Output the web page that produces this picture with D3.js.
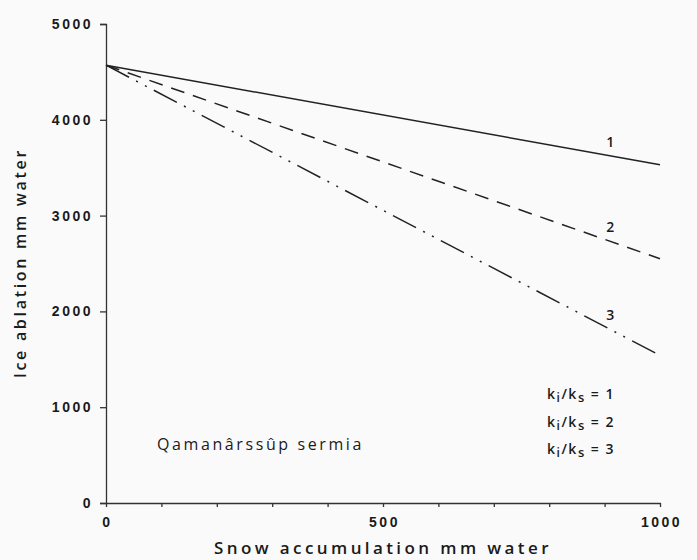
<!DOCTYPE html>
<html>
<head>
<meta charset="utf-8">
<script src="https://cdn.jsdelivr.net/npm/d3@7"></script>
<style>
  body { margin: 0; background: #fafafa; }
  svg { font-family: "Open Sans", "Liberation Sans", Arial, sans-serif; }
  .axis path, .axis line { stroke: #333; stroke-width: 1.3; }
  .axis text { fill: #1a1a1a; font-size: 14px; font-weight: 600; letter-spacing: 2.5px; }
</style>
</head>
<body>
<svg width="697" height="560"></svg>
<script>
// accumulation (mm water) and ablation for each ki/ks ratio
var accum = [0, 1000];
var ratios = [1, 2, 3];
var ablation1 = [4570, 3530];
var ablation2 = [4570, 2550];
var ablation3 = [4570, 1540];
var yTicks = [0, 1000, 2000, 3000, 4000, 5000];
var xLabels = [0, 500, 1000];

var svg = d3.select("svg"),
    margin = {top: 24, right: 37, bottom: 57, left: 106},
    width = +svg.attr("width"),
    height = +svg.attr("height");

var x = d3.scaleLinear()
    .domain([0, 1000])
    .range([margin.left, width - margin.right]);

var y = d3.scaleLinear()
    .domain([0, 5000])
    .range([height - margin.bottom, margin.top]);

// x axis, small ticks every 100, labels at 0/500/1000
var xa = svg.append("g")
    .attr("class", "axis")
    .attr("transform", "translate(0," + y(0) + ")")
    .call(d3.axisBottom(x)
        .tickValues(d3.range(0, 1001, 100))
        .tickSize(4)
        .tickSizeOuter(0)
        .tickFormat(function(d) { return xLabels.indexOf(d) >= 0 ? d : ""; }));
xa.selectAll("text").attr("dy", "1.2em").attr("dx", "1px");

svg.append("g")
    .attr("class", "axis")
    .attr("transform", "translate(" + x(0) + ",0)")
    .call(d3.axisLeft(y)
        .tickValues(yTicks)
        .tickFormat(d3.format("d"))
        .tickSize(6)
        .tickPadding(7));

var series = [ablation1, ablation2, ablation3];
var dashes = [null, "14,9", "26,8,2,8,2,8"];

var line = d3.line()
    .x(function(d, i) { return x(accum[i]); })
    .y(function(d) { return y(d); });

svg.selectAll(".series")
    .data(series)
    .enter().append("path")
    .attr("class", "series")
    .attr("d", line)
    .attr("fill", "none")
    .attr("stroke", "#222")
    .attr("stroke-width", 1.5)
    .attr("stroke-dasharray", function(d, i) { return dashes[i]; });

// curve numbers above the lines near the right end
var labelX = 910;
svg.selectAll(".num")
    .data(series)
    .enter().append("text")
    .attr("class", "num")
    .attr("x", x(labelX))
    .attr("y", function(d) { return y(d[0] + (d[1] - d[0]) * labelX / 1000) - 9; })
    .attr("text-anchor", "middle")
    .attr("fill", "#1a1a1a")
    .attr("font-size", 14)
    .attr("font-weight", 600)
    .text(function(d, i) { return ratios[i]; });

// legend text (no samples in original)
var leg = svg.selectAll(".leg")
    .data(ratios)
    .enter().append("text")
    .attr("class", "leg")
    .attr("x", 547)
    .attr("y", function(d, i) { return 399 + i * 27.5; })
    .attr("fill", "#1a1a1a")
    .attr("font-size", 14)
    .attr("font-weight", 600)
    .attr("letter-spacing", "1.5px");
leg.append("tspan").text("k");
leg.append("tspan").attr("dy", 3).attr("font-size", 12).text("i");
leg.append("tspan").attr("dy", -3).text("/k");
leg.append("tspan").attr("dy", 3).attr("font-size", 13).text("s");
leg.append("tspan").attr("dy", -3).text(function(d) { return " = " + d; });

svg.append("text")
    .attr("x", 157)
    .attr("y", 450)
    .attr("fill", "#1a1a1a")
    .attr("font-size", 16)
    .attr("font-weight", 500)
    .attr("letter-spacing", "2.6px")
    .text("Qamanârssûp sermia");

svg.append("text")
    .attr("x", x(500))
    .attr("y", 554)
    .attr("text-anchor", "middle")
    .attr("fill", "#1a1a1a")
    .attr("font-size", 17)
    .attr("font-weight", 600)
    .attr("letter-spacing", "3.4px")
    .text("Snow accumulation mm water");

svg.append("text")
    .attr("transform", "translate(26,263) rotate(-90)")
    .attr("text-anchor", "middle")
    .attr("fill", "#1a1a1a")
    .attr("font-size", 16)
    .attr("font-weight", 600)
    .attr("letter-spacing", "2.7px")
    .text("Ice ablation mm water");
</script>
</body>
</html>
